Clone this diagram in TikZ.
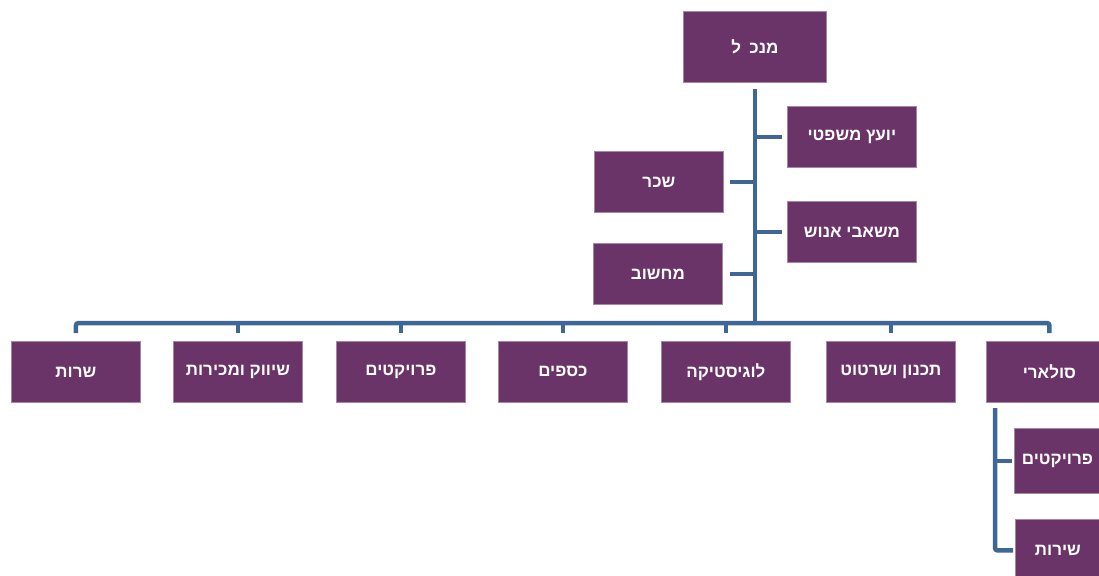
\documentclass[tikz,border=0pt]{standalone}
\usepackage{fontspec}
\newfontfamily\heb[Script=Hebrew]{Liberation Sans}
\TeXXeTstate=1
\definecolor{boxfill}{RGB}{106,52,105}
\definecolor{boxline}{RGB}{165,135,165}
\definecolor{conncol}{RGB}{62,102,150}
\newcommand{\rl}[1]{\beginR #1\endR}
\tikzset{
  orgbox/.style={draw=boxline, line width=0.8pt, fill=boxfill, minimum width=129pt,
    minimum height=61pt, inner sep=0pt, text=white, anchor=north west,
    font=\heb\bfseries\fontsize{17}{19}\selectfont},
  connline/.style={draw=conncol, line width=4.5pt, rounded corners=2.5pt}
}
\begin{document}
\begin{tikzpicture}[x=1pt,y=-1pt]
\useasboundingbox (0,0) rectangle (1099,575);
% top
\node[orgbox, minimum width=143pt, minimum height=71pt] (top) at (683,11) {\rl{מנכ\hspace{0.5em}ל}};
% assistants
\node[orgbox] (a1) at (787,106) {\rl{יועץ משפטי}};
\node[orgbox] (a2) at (787,201) {\rl{משאבי אנוש}};
\node[orgbox] (a3) at (594,151) {\rl{שכר}};
\node[orgbox] (a4) at (593,243) {\rl{מחשוב}};
% bottom row
\node[orgbox] (b1) at (11,341) {\rl{שרות}};
\node[orgbox] (b2) at (173,341) {\rl{שיווק ומכירות}};
\node[orgbox] (b3) at (336,341) {\rl{פרויקטים}};
\node[orgbox] (b4) at (498,341) {\rl{כספים}};
\node[orgbox] (b5) at (661,341) {\rl{לוגיסטיקה}};
\node[orgbox] (b6) at (826,341) {\rl{תכנון ושרטוט}};
\node[orgbox, minimum width=126pt] (b7) at (986,341) {\rl{סולארי}};
% solar sub
\node[orgbox, minimum width=86pt, minimum height=65pt] (s1) at (1014,428) {\rl{פרויקטים}};
\node[orgbox, minimum width=85pt, minimum height=62pt] (s2) at (1015,519) {\rl{שירות}};
% connectors
\coordinate (bus) at (755,323);
\draw[connline] ([yshift=-6pt]top.south) -- (top.south |- bus);
\draw[connline] (top.south |- a1.west) -- ([xshift=-5pt]a1.west);
\draw[connline] (top.south |- a2.west) -- ([xshift=-5pt]a2.west);
\draw[connline] (top.south |- a3.east) -- ([xshift=6pt]a3.east);
\draw[connline] (top.south |- a4.east) -- ([xshift=7pt]a4.east);
\draw[connline] ([yshift=8pt]b1.north) -- (b1.north |- bus) -- (b7.north |- bus) -- ([yshift=8pt]b7.north);
\foreach \b in {b2,b3,b4,b5,b6}
  \draw[connline] (\b.north |- bus) -- ([yshift=8pt]\b.north);
\coordinate (sv) at (995,408);
\draw[connline] (sv) |- ([xshift=-2pt]s2.west);
\draw[connline] (sv |- s1.west) -- ([xshift=-2pt]s1.west);
\end{tikzpicture}
\end{document}
